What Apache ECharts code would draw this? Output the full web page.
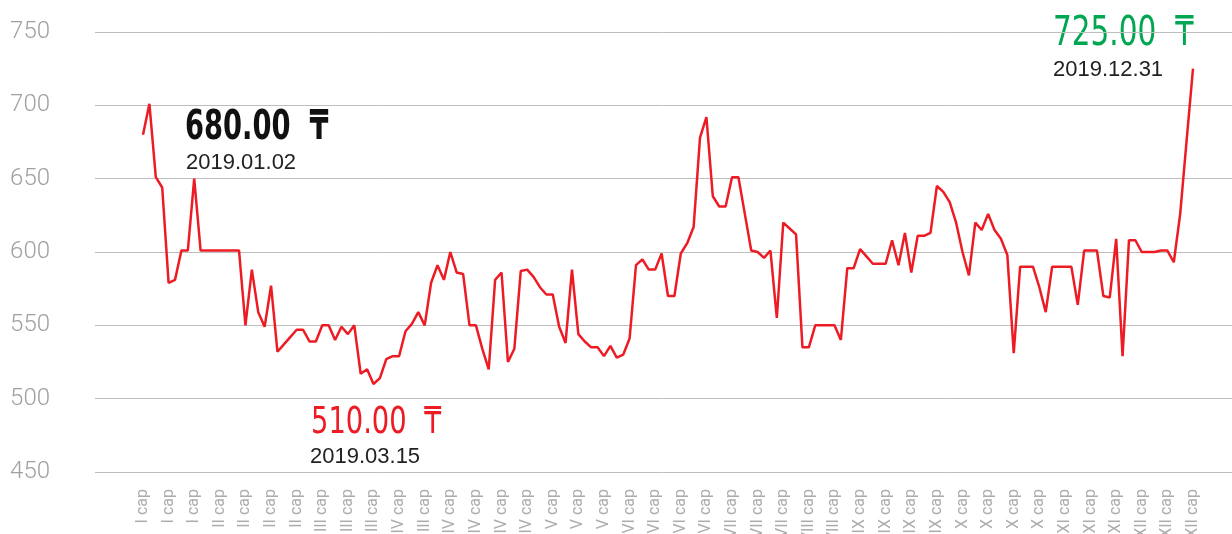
<!DOCTYPE html>
<html>
<head>
<meta charset="utf-8">
<script src="https://cdn.jsdelivr.net/npm/echarts@6/dist/echarts.min.js"></script>
<style>
  html, body { margin: 0; padding: 0; background: #fff; }
  #chart { width: 1232px; height: 534px; }
</style>
</head>
<body>
<div id="chart"></div>
<script>
// x tick labels, one per 4 points
const monthTicks = ['I', 'I', 'I', 'II', 'II', 'II', 'II', 'III', 'III', 'III', 'IV', 'III', 'IV', 'IV',
  'IV', 'IV', 'V', 'V', 'V', 'VI', 'VI', 'VI', 'VI', 'VII', 'VII', 'VII', 'VIII', 'VIII', 'IX', 'IX',
  'IX', 'IX', 'X', 'X', 'X', 'X', 'XI', 'XI', 'XI', 'XII', 'XII', 'XII']

// price
const prices = [
  680, 701, 651, 644, 579, 581, 601, 601, 650, 601,
  601, 601, 601, 601, 601, 601, 550, 588, 559, 549,
  577, 532, 537, 542, 547, 547, 539, 539, 550, 550,
  540, 549, 544, 550, 517, 520, 510, 514, 527, 529,
  529, 546, 551, 559, 550, 579, 591, 581, 600, 586,
  585, 550, 550, 534, 520, 581, 586, 525, 534, 587,
  588, 583, 576, 571, 571, 549, 538, 588, 544, 539,
  535, 535, 529, 536, 528, 530, 541, 591, 595, 588,
  588, 599, 570, 570, 599, 606, 617, 678, 692, 638,
  631, 631, 651, 651, 626, 601, 600, 596, 601, 555,
  620, 616, 612, 535, 535, 550, 550, 550, 550, 540,
  589, 589, 602, 597, 592, 592, 592, 608, 591, 613,
  586, 611, 611, 613, 645, 641, 634, 620, 600, 584,
  620, 615, 626, 615, 609, 598, 531, 590, 590, 590,
  576, 559, 590, 590, 590, 590, 564, 601, 601, 601,
  570, 569, 609, 529, 608, 608, 600, 600, 600, 601,
  601, 593, 626, 676, 725
]

const yTicks = [450, 500, 550, 600, 650, 700, 750]

// dates of first, lowest and last price
const markDates = ['2019.01.02', '2019.03.15', '2019.12.31']

const categories = prices.map((_, i) => (i % 4 === 0 ? monthTicks[i / 4] + ' cap' : ''))

const firstPrice = prices[0]
const minPrice = Math.min(...prices)
const lastPrice = prices[prices.length - 1]
const fmt = v => v.toFixed(2) + '  \u20B8'

const bigFont = '"DejaVu Sans Condensed", "Liberation Sans Narrow", sans-serif'
const dateFont = '"Liberation Sans", Arial, sans-serif'

const chart = echarts.init(document.getElementById('chart'))

chart.setOption({
  animation: false,
  grid: [
    // background grid with the y axis, wider than the line
    { left: 95, right: 0, top: 32, bottom: 62, containLabel: false, outerBoundsMode: 'none' },
    // grid for the line itself, labels may run off the bottom
    { left: 143, right: 39, top: 32, bottom: 62, containLabel: false, outerBoundsMode: 'none' }
  ],
  xAxis: [{
    gridIndex: 0,
    type: 'category',
    data: ['', ''],
    show: false
  }, {
    gridIndex: 1,
    type: 'category',
    data: categories,
    boundaryGap: false,
    axisLine: { show: false },
    axisTick: { show: false },
    axisLabel: {
      interval: 3,
      rotate: 90,
      margin: 17,
      color: '#acacac',
      fontSize: 16,
      fontFamily: 'Roboto, sans-serif'
    }
  }],
  yAxis: [{
    gridIndex: 0,
    type: 'value',
    min: yTicks[0],
    max: yTicks[yTicks.length - 1],
    interval: 50,
    axisLine: { show: false },
    axisTick: { show: false },
    axisLabel: {
      margin: 45,
      color: '#a0a0a0',
      fontSize: 24,
      fontWeight: 300,
      fontFamily: 'Roboto, sans-serif',
      padding: [4, 0, 0, 0]
    },
    splitLine: { lineStyle: { color: '#bdbdbd', width: 1 } }
  }, {
    gridIndex: 1,
    type: 'value',
    min: yTicks[0],
    max: yTicks[yTicks.length - 1],
    show: false,
    splitLine: { show: false }
  }],
  series: [{
    type: 'line',
    xAxisIndex: 1,
    yAxisIndex: 1,
    data: prices,
    showSymbol: false,
    lineStyle: { color: '#ed1c24', width: 2.5 },
    itemStyle: { color: '#ed1c24' }
  }],
  graphic: [
    {
      type: 'text', x: 185, y: 109, scaleX: 0.76,
      style: { text: fmt(firstPrice), fill: '#111', font: 'bold 40px ' + bigFont, verticalAlign: 'top' }
    },
    {
      type: 'text', x: 186, y: 152,
      style: { text: markDates[0], fill: '#222', font: '22px ' + dateFont, verticalAlign: 'top' }
    },
    {
      type: 'text', x: 311, y: 404, scaleX: 0.8,
      style: { text: fmt(minPrice), fill: '#ed1c24', font: '38px ' + bigFont, verticalAlign: 'top' }
    },
    {
      type: 'text', x: 310, y: 446,
      style: { text: markDates[1], fill: '#222', font: '22px ' + dateFont, verticalAlign: 'top' }
    },
    {
      type: 'text', x: 1053, y: 15, scaleX: 0.82,
      style: { text: fmt(lastPrice), fill: '#00a651', font: '40px ' + bigFont, verticalAlign: 'top' }
    },
    {
      type: 'text', x: 1053, y: 59,
      style: { text: markDates[2], fill: '#222', font: '22px ' + dateFont, verticalAlign: 'top' }
    }
  ]
})
</script>
</body>
</html>
